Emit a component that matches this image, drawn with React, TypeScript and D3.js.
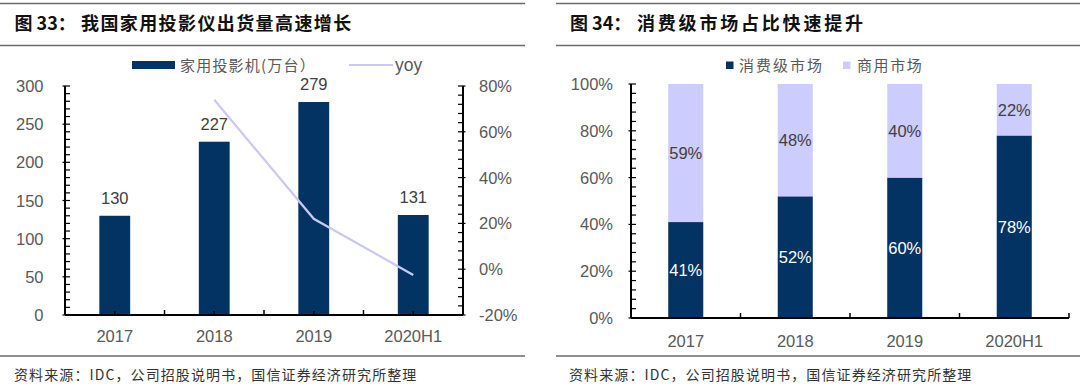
import React from "react";
import * as d3 from "d3";

const years = ["2017", "2018", "2019", "2020H1"];
const shipments = [130, 227, 279, 131];
const yoy = [null, 0.74, 0.22, -0.025];
const leftTicks = [0, 50, 100, 150, 200, 250, 300];
const rightTicks = [-0.2, 0, 0.2, 0.4, 0.6, 0.8];

const consumer = [0.41, 0.52, 0.6, 0.78];
const commercial = [0.59, 0.48, 0.4, 0.22];
const pctTicks = [0, 0.2, 0.4, 0.6, 0.8, 1.0];

const NAVY = "#033363";
const LAV = "#ccccff";
const LINE = "#c9c9f2";
const GREY = "#595959";
const FONT = "'Liberation Sans', Arial, 'Noto Sans CJK SC', sans-serif";
const CJK = "'Noto Sans CJK SC', 'Liberation Sans', sans-serif";
const FS = 16.5;
const pct = (v: number) => d3.format(".0%")(v).replace("\u2212", "-");

function Frame({ x0, x1, title, titleX, restX, rest, spacing, srcX }: any) {
  return (
    <g>
      <line x1={x0} x2={x1} y1={3.5} y2={3.5} stroke="#6b6b6b" strokeWidth={1.5} />
      <line x1={x0} x2={x1} y1={45.5} y2={45.5} stroke="#6b6b6b" strokeWidth={1.5} />
      <line x1={x0} x2={x1} y1={356} y2={356} stroke="#6b6b6b" strokeWidth={1.5} />
      <text x={titleX} y={29.5} fontFamily={CJK} fontWeight={700} fontSize={18} fill="#111">
        {title}
      </text>
      <text x={restX} y={29.5} fontFamily={CJK} fontWeight={700} fontSize={18} letterSpacing={spacing} fill="#111">
        {rest}
      </text>
      <text x={srcX} y={380} fontFamily={CJK} fontSize={14} letterSpacing={1.1} fill="#333">
        资料来源：IDC，公司招股说明书，国信证券经济研究所整理
      </text>
    </g>
  );
}

function LeftChart() {
  const X0 = 65;
  const X1 = 463;
  const YB = 315;
  const YT = 86;
  const x = d3.scaleBand<string>().domain(years).range([X0, X1]).paddingInner(0.69).paddingOuter(0.345);
  const y = d3.scaleLinear().domain([0, 300]).range([YB, YT]);
  const y2 = d3.scaleLinear().domain([-0.2, 0.8]).range([YB, YT]);
  const cx = (d: string) => (x(d) as number) + x.bandwidth() / 2;
  const minorL = d3.range(0, 301, 10);
  const minorR = d3.range(0, 26).map((i) => -0.2 + i * 0.04);
  const pts = years.map((d, i) => [d, yoy[i]] as [string, number | null]).filter((p) => p[1] !== null);
  const line = d3
    .line<[string, number | null]>()
    .x((p) => cx(p[0]))
    .y((p) => y2(p[1] as number))
    .curve(d3.curveLinear);
  const step = (X1 - X0) / years.length;
  return (
    <g>
      <Frame x0={0} x1={525} titleX={14.5} title="图 33：" restX={81} rest="我国家用投影仪出货量高速增长" spacing={1.4} srcX={14} />
      {/* legend */}
      <rect x={132} y={61} width={43} height={8} fill={NAVY} />
      <text x={180} y={70.5} fontFamily={CJK} fontSize={15} fill={GREY} letterSpacing={1.2}>
        家用投影机(万台）
      </text>
      <line x1={349} x2={393} y1={65} y2={65} stroke={LINE} strokeWidth={2} />
      <text x={395} y={71} fontFamily={FONT} fontSize={17.5} fill={GREY}>
        yoy
      </text>
      {/* bars */}
      {years.map((d, i) => (
        <g key={d}>
          <rect x={x(d)} y={y(shipments[i])} width={x.bandwidth()} height={YB - y(shipments[i])} fill={NAVY} />
          <text x={cx(d)} y={y(shipments[i]) - 12} textAnchor="middle" fontFamily={FONT} fontSize={FS} fill="#404040">
            {shipments[i]}
          </text>
        </g>
      ))}
      <path d={line(pts) || ""} fill="none" stroke={LINE} strokeWidth={2.2} />
      {/* axes */}
      <line x1={X0} x2={X0} y1={YT} y2={YB} stroke="#000" strokeWidth={2} />
      <line x1={X1} x2={X1} y1={YT} y2={YB} stroke="#000" strokeWidth={2} />
      <line x1={X0} x2={X1} y1={YB} y2={YB} stroke="#000" strokeWidth={2} />
      {minorL.map((v) => (
        <line key={"ml" + v} x1={v % 50 === 0 ? X0 - 2.5 : X0} x2={X0 + 5} y1={y(v)} y2={y(v)} stroke="#000" strokeWidth={1.2} />
      ))}
      {minorR.map((v, i) => (
        <line key={"mr" + i} x1={X1 - 5} x2={i % 5 === 0 ? X1 + 2.5 : X1} y1={y2(v)} y2={y2(v)} stroke="#000" strokeWidth={1.2} />
      ))}
      {d3.range(1, years.length).map((i) => (
        <line key={"xt" + i} x1={X0 + i * step} x2={X0 + i * step} y1={YB - 5} y2={YB} stroke="#000" strokeWidth={1.5} />
      ))}
      {years.map((d) => (
        <line key={"xc" + d} x1={cx(d)} x2={cx(d)} y1={YB - 4} y2={YB} stroke="#000" strokeWidth={1.5} />
      ))}
      {leftTicks.map((v) => (
        <text key={"lt" + v} x={43.5} y={y(v) + 6} textAnchor="end" fontFamily={FONT} fontSize={FS} fill={GREY}>
          {v}
        </text>
      ))}
      {rightTicks.map((v) => (
        <text key={"rt" + v} x={479} y={y2(v) + 6} textAnchor="start" fontFamily={FONT} fontSize={FS} fill={GREY}>
          {pct(v)}
        </text>
      ))}
      {years.map((d) => (
        <text key={"xl" + d} x={cx(d)} y={341.5} textAnchor="middle" fontFamily={FONT} fontSize={FS} fill={GREY}>
          {d}
        </text>
      ))}
    </g>
  );
}

function RightChart() {
  const x0 = 631;
  const x1 = 1069;
  const YB = 318;
  const YT = 84;
  const x = d3.scaleBand<string>().domain(years).range([x0, x1]).paddingInner(0.68).paddingOuter(0.34);
  const y = d3.scaleLinear().domain([0, 1]).range([YB, YT]);
  const cx = (d: string) => (x(d) as number) + x.bandwidth() / 2;
  const step = (x1 - x0) / years.length;
  const minor = d3.range(0, 26).map((i) => i * 0.04);
  return (
    <g>
      <Frame x0={556} x1={1080} titleX={570} title="图 34：" restX={637} rest="消费级市场占比快速提升" spacing={2.8} srcX={569} />
      <rect x={726} y={61.5} width={7.5} height={7.5} fill={NAVY} />
      <text x={739} y={70.5} fontFamily={CJK} fontSize={15} fill={GREY} letterSpacing={2}>
        消费级市场
      </text>
      <rect x={843} y={61.5} width={7.5} height={7.5} fill={LAV} />
      <text x={857} y={70.5} fontFamily={CJK} fontSize={15} fill={GREY} letterSpacing={1.6}>
        商用市场
      </text>
      {years.map((d, i) => {
        const top1 = y(consumer[i]);
        const top2 = y(consumer[i] + commercial[i]);
        return (
          <g key={d}>
            <rect x={x(d)} y={top1} width={x.bandwidth()} height={YB - top1} fill={NAVY} />
            <rect x={x(d)} y={top2} width={x.bandwidth()} height={top1 - top2} fill={LAV} />
            <text x={cx(d)} y={(top1 + YB) / 2 + 6} textAnchor="middle" fontFamily={FONT} fontSize={FS} fill="#fff">
              {pct(consumer[i])}
            </text>
            <text x={cx(d)} y={(top1 + top2) / 2 + 6} textAnchor="middle" fontFamily={FONT} fontSize={FS} fill="#404040">
              {pct(commercial[i])}
            </text>
          </g>
        );
      })}
      <line x1={x0} x2={x0} y1={YT} y2={YB} stroke="#000" strokeWidth={2} />
      <line x1={x0} x2={x1} y1={YB} y2={YB} stroke="#000" strokeWidth={2} />
      {minor.map((v, i) => (
        <line key={"m" + i} x1={i % 5 === 0 ? x0 - 2.5 : x0} x2={x0 + 5} y1={y(v)} y2={y(v)} stroke="#000" strokeWidth={1.2} />
      ))}
      {d3.range(1, years.length + 1).map((i) => (
        <line key={"xt" + i} x1={x0 + i * step} x2={x0 + i * step} y1={YB - 5} y2={YB} stroke="#000" strokeWidth={1.5} />
      ))}
      {pctTicks.map((v) => (
        <text key={"pt" + v} x={613} y={y(v) + 6} textAnchor="end" fontFamily={FONT} fontSize={FS} fill={GREY}>
          {pct(v)}
        </text>
      ))}
      {years.map((d) => (
        <text key={"xl" + d} x={cx(d)} y={347} textAnchor="middle" fontFamily={FONT} fontSize={FS} fill={GREY}>
          {d}
        </text>
      ))}
    </g>
  );
}

export default function App() {
  return (
    <svg width={1080} height={390} style={{ position: "absolute", left: 0, top: 0, background: "#fff" }}>
      <rect width={1080} height={390} fill="#fff" />
      <LeftChart />
      <RightChart />
    </svg>
  );
}
